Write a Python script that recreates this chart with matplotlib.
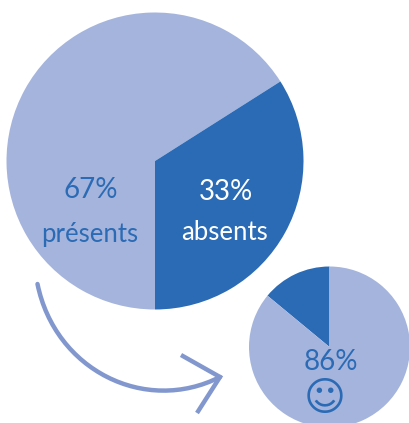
import matplotlib
matplotlib.use('Agg')
import matplotlib.pyplot as plt
from matplotlib.path import Path
from matplotlib.patches import PathPatch

# parts
parts_grand = [66, 34]
parts_petit = [14, 86]
labels_grand = ['67%', '33%']
noms_grand = ['présents', 'absents']
label_petit = '86%'

clair = '#A5B4DC'
fonce = '#2B6BB5'
fleche = '#8197CE'

W, H = 409, 423

plt.rcParams['font.family'] = ['Lato', 'DejaVu Sans']

fig = plt.figure(figsize=(W / 100, H / 100), dpi=100)
ax = fig.add_axes([0, 0, 1, 1])

# grand camembert
ax.pie(parts_grand, colors=[clair, fonce], center=(155, H - 161), radius=148.5,
       startangle=-90 + 360 * parts_grand[1] / 100, counterclock=True, frame=False)
# petit camembert
ax.pie(parts_petit, colors=[fonce, clair], center=(329.5, H - 347), radius=80.5,
       startangle=90, counterclock=True, frame=False)

ax.set_xlim(0, W)
ax.set_ylim(0, H)
ax.set_aspect('equal')
ax.axis('off')

# textes
ax.text(90.5, H - 190, labels_grand[0], color=fonce, fontsize=20, ha='center', va='center')
ax.text(90, H - 234, noms_grand[0], color=fonce, fontsize=18.5, ha='center', va='center')
ax.text(226, H - 192, labels_grand[1], color='white', fontsize=20, ha='center', va='center')
ax.text(224, H - 232, noms_grand[1], color='white', fontsize=18.5, ha='center', va='center')
ax.text(331, H - 362, label_petit, color=fonce, fontsize=20, ha='center', va='center')
ax.text(325, H - 399, '\u263a', color=fonce, fontsize=29, ha='center', va='center',
        family='DejaVu Sans')

# fleche
courbe = Path([(37.5, H - 284), (55, H - 370), (145, H - 415), (220, H - 377)],
              [Path.MOVETO, Path.CURVE4, Path.CURVE4, Path.CURVE4])
ax.add_patch(PathPatch(courbe, fill=False, edgecolor=fleche, lw=3.2, capstyle='round'))
tete = Path([(181, H - 355), (220, H - 377), (197, H - 413)],
            [Path.MOVETO, Path.LINETO, Path.LINETO])
ax.add_patch(PathPatch(tete, fill=False, edgecolor=fleche, lw=3.2, capstyle='butt', joinstyle='miter'))

fig.savefig('out.png', dpi=100)
